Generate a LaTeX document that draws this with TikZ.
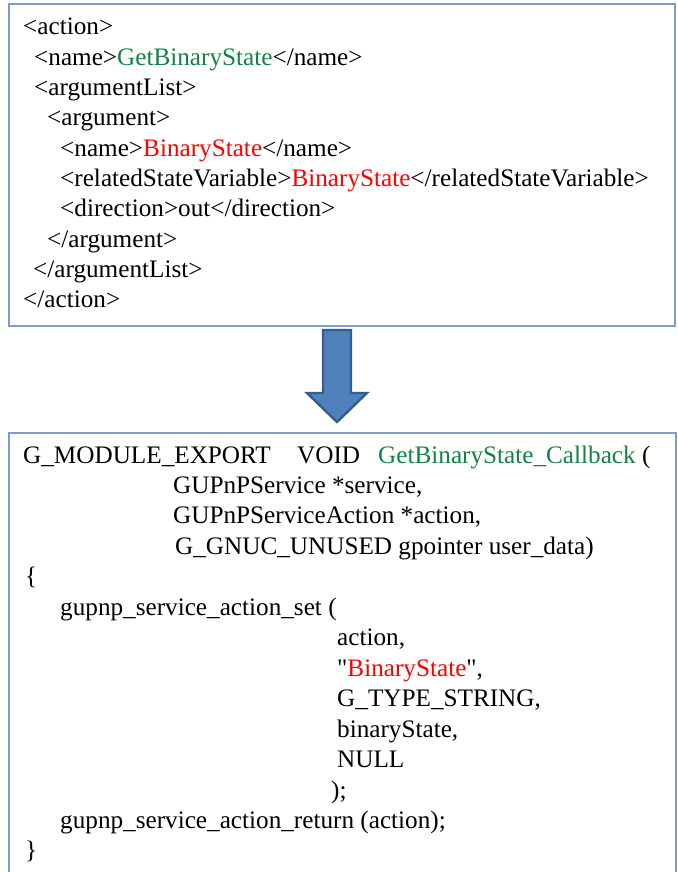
\documentclass[tikz,border=0pt]{standalone}
\usepackage{fontspec}
\setmainfont{Liberation Serif}[Ligatures=TeXOff]
\definecolor{boxline}{RGB}{126,156,206}
\definecolor{arrowfill}{RGB}{79,129,189}
\definecolor{arrowline}{RGB}{56,93,138}
\definecolor{namegreen}{RGB}{20,130,70}
\begin{document}
\begin{tikzpicture}[x=1pt,y=-1pt,
  codebox/.style={draw=boxline, line width=1.6pt, inner sep=0pt, anchor=north west},
  txt/.style={anchor=base west, inner sep=0pt, font=\fontsize{25.2}{30}\selectfont},
  blockarrow/.style={fill=arrowfill, draw=arrowline, line width=2.4pt, line join=miter}]
\useasboundingbox (0,0) rectangle (677,872);

% Boxes
\node[codebox, minimum width=666pt, minimum height=322pt] (xml) at (8,3) {};
\node[codebox, minimum width=667pt, minimum height=460pt] (code) at (8,432) {};

% Arrow between the boxes
\draw[blockarrow] (323,330) -- (351,330) -- (351,393) -- (367,393) -- (337,422)
  -- (307,393) -- (323,393) -- cycle;

% XML description
\node[txt] (xline1) at (23,35) {<action>};
\node[txt] (xline2) at (34,65.3) {<name>\textcolor{namegreen}{GetBinaryState}</name>};
\node[txt] (xline3) at (34,95.6) {<argumentList>};
\node[txt] (xline4) at (47,125.9) {<argument>};
\node[txt] (xline5) at (60,156.2) {<name>\textcolor{red}{BinaryState}</name>};
\node[txt] (xline6) at (60,186.5) {<relatedStateVariable>\textcolor{red}{BinaryState}</relatedStateVariable>};
\node[txt] (xline7) at (60,216.8) {<direction>out</direction>};
\node[txt] (xline8) at (47,247.1) {</argument>};
\node[txt] (xline9) at (33,277.4) {</argumentList>};
\node[txt] (xline10) at (23,307.7) {</action>};

% Callback code
\node[txt] (cexport) at (23,463) {G\_MODULE\_EXPORT};
\node[txt] (cvoid) at (297,463) {VOID};
\node[txt] (cname) at (378,463) {\textcolor{namegreen}{GetBinaryState\_Callback} (};
\node[txt] (cline2) at (173,493.5) {GUPnPService *service,};
\node[txt] (cline3) at (173,523.9) {GUPnPServiceAction *action,};
\node[txt] (cline4) at (175,554.4) {G\_GNUC\_UNUSED gpointer user\_data)};
\node[txt] (cline5) at (25,584.8) {\{};
\node[txt] (cline6) at (60,615.3) {gupnp\_service\_action\_set (};
\node[txt] (cline7) at (337,645.7) {action,};
\node[txt] (cline8) at (337,676.2) {"\textcolor{red}{BinaryState}",};
\node[txt] (cline9) at (337,706.6) {G\_TYPE\_STRING,};
\node[txt] (cline10) at (337,737.1) {binaryState,};
\node[txt] (cline11) at (337,767.5) {NULL};
\node[txt] (cline12) at (331,798) {);};
\node[txt] (cline13) at (60,828.4) {gupnp\_service\_action\_return (action);};
\node[txt] (cline14) at (25,858.9) {\}};

\end{tikzpicture}
\end{document}
